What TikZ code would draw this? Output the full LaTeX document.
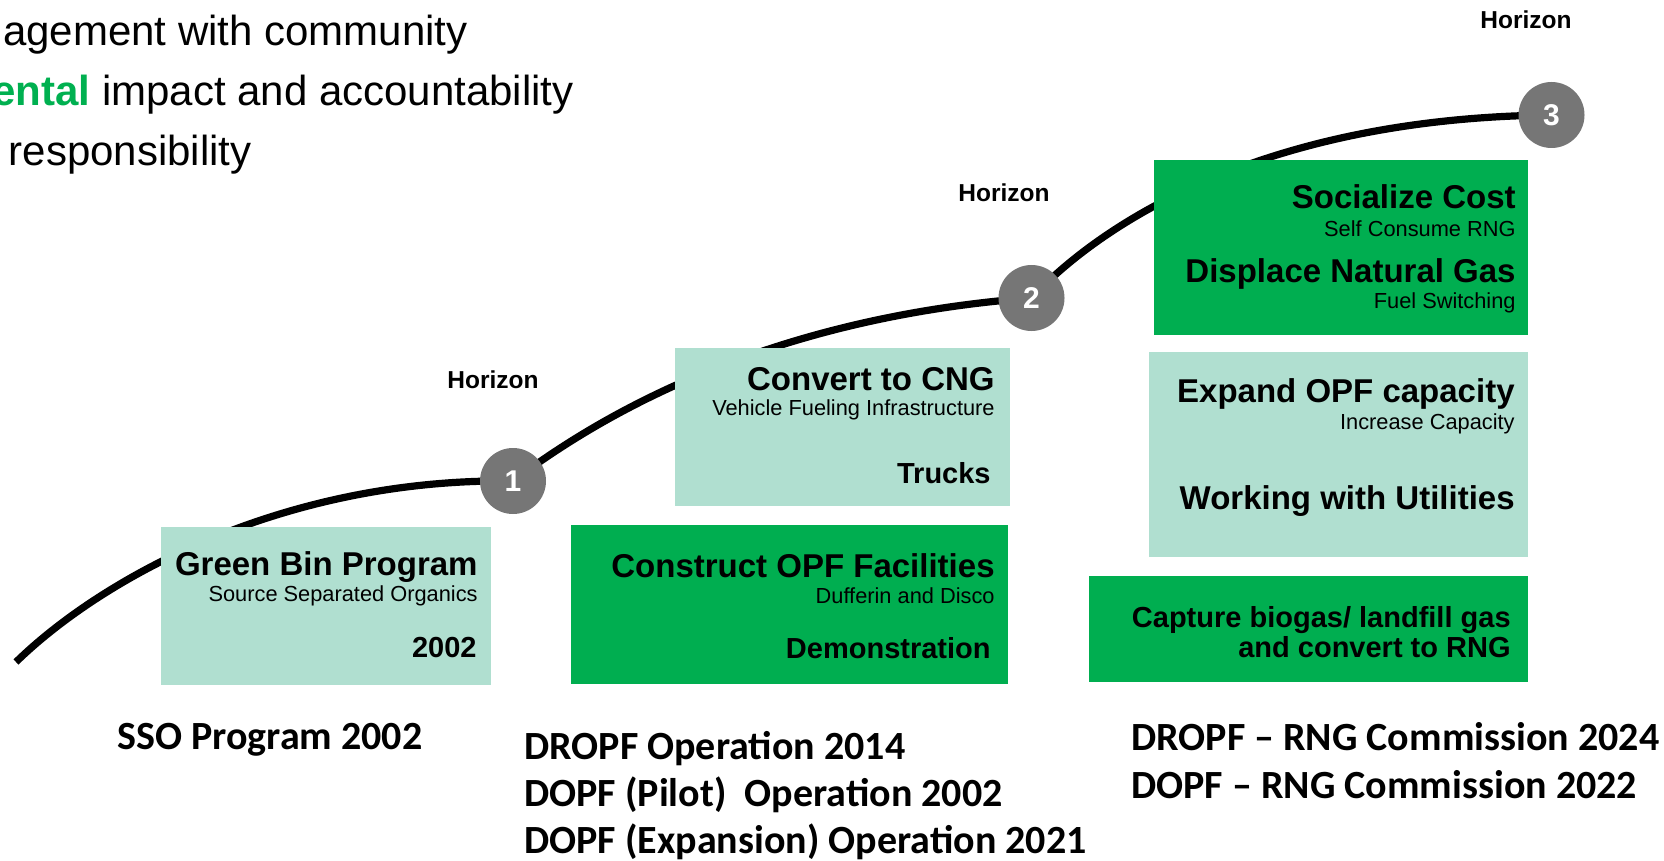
\documentclass[tikz,border=0pt]{standalone}
\usepackage{fontspec}
\setmainfont{Liberation Sans}
\newfontfamily\calib{Carlito}
\usetikzlibrary{backgrounds}
\definecolor{lteal}{HTML}{B0DFD0}
\definecolor{dgreen}{HTML}{00AE50}
\definecolor{hgray}{HTML}{767676}
\definecolor{tgreen}{HTML}{00B050}
\begin{document}
\begin{tikzpicture}[x=0.5pt,y=-0.5pt,
  box/.style={rectangle, draw=none, inner sep=0, outer sep=0},
  lbox/.style={box, fill=lteal},
  gbox/.style={box, fill=dgreen},
  ttl/.style={anchor=base east, inner sep=0, font=\fontsize{16.5}{19}\selectfont\bfseries},
  sub/.style={anchor=base east, inner sep=0, font=\fontsize{10.9}{13}\selectfont},
  sec/.style={anchor=base east, inner sep=0, font=\fontsize{14.5}{17}\selectfont\bfseries},
  hz/.style={anchor=base, inner sep=0, font=\fontsize{12.25}{14}\selectfont\bfseries},
  hc/.style={circle, fill=hgray, minimum size=33pt, inner sep=0, text=white, font=\fontsize{15}{18}\selectfont\bfseries},
  curve/.style={line width=3.6pt},
  bot/.style={anchor=base west, inner sep=0, font=\calib\fontsize{20}{24}\selectfont\bfseries},
  head/.style={anchor=base east, inner sep=0, font=\fontsize{21}{25}\selectfont}
]
\useasboundingbox (0,0) rectangle (1664,861);

% header lines
\node[head] (l1) at (468,46) {agement with community};
\node[head] (l2) at (574,106) {\textcolor{tgreen}{\bfseries ental} impact and accountability};
\node[head] (l3) at (252,166) {responsibility};

% horizon circles
\node[hc] (h1) at (513,481) {1};
\node[hc] (h2) at (1031.5,298) {2};
\node[hc] (h3) at (1551.5,115) {3};

% horizon labels
\node[hz] (z1) at (493,388) {Horizon};
\node[hz] (z2) at (1004,202) {Horizon};
\node[hz] (z3) at (1526,29) {Horizon};

% curves
\coordinate (c0) at (16,662);
\begin{pgfonlayer}{background}
\draw[curve] (c0) .. controls (100,580) and (280,478) .. (h1.center);
\draw[curve] (h1.center) .. controls (575,435) and (740,320) .. (h2.center);
\draw[curve] (h2.center) .. controls (1100,225) and (1260,118) .. (h3.center);
\end{pgfonlayer}

% boxes
\node[lbox, minimum width=165pt, minimum height=79pt] (b1) at (326,606) {};
\node[lbox, minimum width=167.5pt, minimum height=79pt] (b2) at (842.5,427) {};
\node[gbox, minimum width=218.5pt, minimum height=79.5pt] (b3) at (789.5,604.5) {};
\node[gbox, minimum width=187pt, minimum height=87.5pt] (b4) at (1341,247.5) {};
\node[lbox, minimum width=189.5pt, minimum height=102.5pt] (b5) at (1338.5,454.5) {};
\node[gbox, minimum width=219.5pt, minimum height=53pt] (b6) at (1308.5,629) {};

% box texts
\node[ttl] (t1) at (478,575) {Green Bin Program};
\node[sub] (s1) at (478,601) {Source Separated Organics};
\node[sec] (y1) at (477,657) {2002};

\node[ttl] (t2) at (995,390) {Convert to CNG};
\node[sub] (s2) at (995,415) {Vehicle Fueling Infrastructure};
\node[sec] (y2) at (991,483) {Trucks};

\node[ttl] (t3) at (995,577) {Construct OPF Facilities};
\node[sub] (s3) at (995,603) {Dufferin and Disco};
\node[sec] (y3) at (991,658) {Demonstration};

\node[ttl] (t4) at (1516,209) {Socialize Cost};
\node[sub] (s4) at (1516,237) {Self Consume RNG};
\node[ttl] (t4b) at (1516,282) {Displace Natural Gas};
\node[sub] (s4b) at (1516,308) {Fuel Switching};

\node[ttl] (t5) at (1515,402) {Expand OPF capacity};
\node[sub] (s5) at (1515,429) {Increase Capacity};
\node[ttl] (t5b) at (1515,509) {Working with Utilities};

\node[sec] (t6) at (1511,627) {Capture biogas/ landfill gas};
\node[sec] (t6b) at (1511,657) {and convert to RNG};

% bottom texts
\node[bot] (p1) at (117,749) {SSO Program 2002};
\node[bot] (p2) at (524,759) {DROPF Operation 2014};
\node[bot] (p3) at (524,806) {DOPF (Pilot)~ Operation 2002};
\node[bot] (p4) at (524,853) {DOPF (Expansion) Operation 2021};
\node[bot] (p5) at (1131,750) {DROPF – RNG Commission 2024};
\node[bot] (p6) at (1131,798) {DOPF – RNG Commission 2022};
\end{tikzpicture}
\end{document}
